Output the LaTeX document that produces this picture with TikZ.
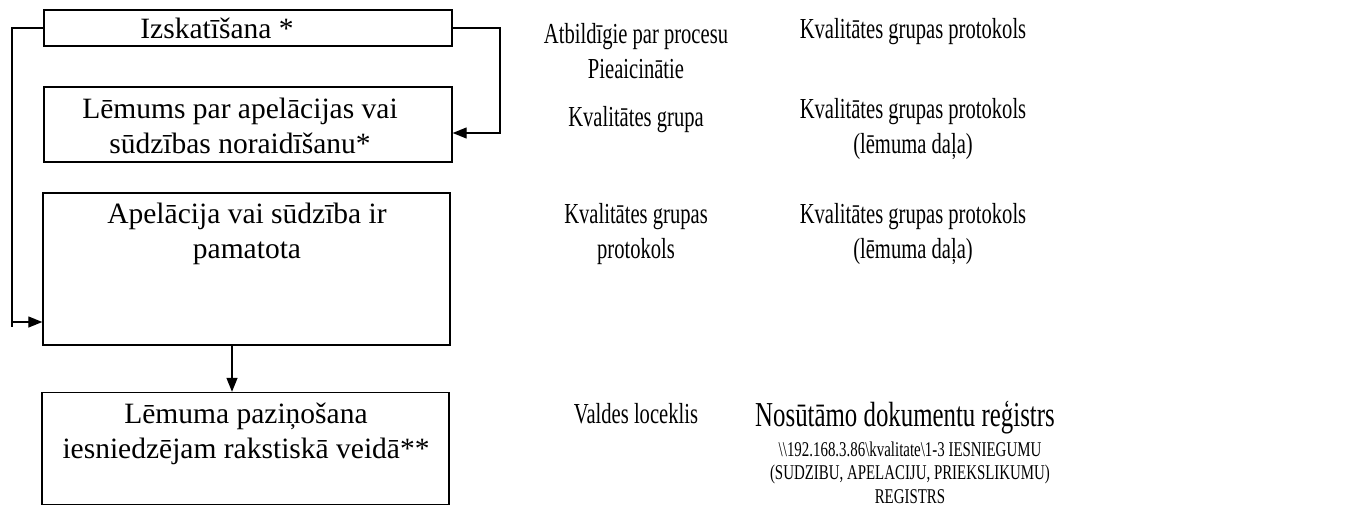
\documentclass[tikz,border=0pt]{standalone}
\usepackage{fontspec}
\setmainfont{Liberation Serif}
\newfontfamily\narrowfont[FakeStretch=0.71]{Liberation Serif}
\usetikzlibrary{arrows.meta}
\begin{document}
\begin{tikzpicture}[x=1pt,y=-1pt,
  box/.style={draw, line width=1.4pt, inner sep=0pt},
  conn/.style={line width=1.3pt},
  tip/.style={-{Triangle[length=14pt,width=11pt]}},
  bt/.style={font=\fontsize{29.5}{35}\selectfont, align=center, inner sep=0pt, anchor=base},
  nt/.style={font=\narrowfont\fontsize{29}{35}\selectfont, align=center, inner sep=0pt, anchor=base},
  big/.style={font=\narrowfont\fontsize{35}{40}\selectfont, align=center, inner sep=0pt, anchor=base},
  small/.style={font=\narrowfont\fontsize{21}{23.5}\selectfont, align=center, inner sep=0pt, anchor=base}]
\useasboundingbox (0,0) rectangle (1364,506);
% boxes
\node[box, minimum width=408pt, minimum height=36pt] (b1) at (248,28) {};
\node[box, minimum width=408pt, minimum height=75pt] (b2) at (248,124.5) {};
\node[box, minimum width=407pt, minimum height=152pt] (b3) at (246.5,269) {};
\node[box, minimum width=407pt, minimum height=112pt] (b4) at (245.5,448.5) {};
% box texts (base = baseline of last line)
\node[bt] (t1) at (217,38) {Izskatīšana *};
\node[bt] (t2) at (240,153) {Lēmums par apelācijas vai\\sūdzības noraidīšanu*};
\node[bt] (t3) at (247,258) {Apelācija vai sūdzība ir\\pamatota};
\node[bt] (t4) at (246,458) {Lēmuma paziņošana\\iesniedzējam rakstiskā veidā**};
% connectors
\coordinate (r1) at (500,28);
\coordinate (r2) at (500,133);
\draw[conn,tip] (b1.east) -- (r1) -- (r2) -- (b2.east |- r2);
\coordinate (l1) at (12,28);
\coordinate (l2) at (12,322);
\coordinate (l3) at (12,327);
\draw[conn] (l2) -- (l3);
\draw[conn,tip] (b1.west) -- (l1) -- (l2) -- (b3.west |- l2);
\coordinate (d) at (232,0);
\draw[conn,tip] (b3.south -| d) -- (b4.north -| d);
% middle column
\node[nt] (m1) at (636,78) {Atbildīgie par procesu\\Pieaicinātie};
\node[nt] (m2) at (636,126) {Kvalitātes grupa};
\node[nt] (m3) at (636,258) {Kvalitātes grupas\\protokols};
\node[nt] (m4) at (636,423) {Valdes loceklis};
% right column
\node[nt] (p1) at (913,38) {Kvalitātes grupas protokols};
\node[nt] (p2) at (913,153) {Kvalitātes grupas protokols\\(lēmuma daļa)};
\node[nt] (p3) at (913,258) {Kvalitātes grupas protokols\\(lēmuma daļa)};
\node[big] (p4) at (905,426) {Nosūtāmo dokumentu reģistrs};
\node[small] (p5) at (910,503) {\textbackslash\textbackslash 192.168.3.86\textbackslash kvalitate\textbackslash 1-3 IESNIEGUMU\\(SUDZIBU, APELACIJU, PRIEKSLIKUMU)\\REGISTRS};
\end{tikzpicture}
\end{document}
